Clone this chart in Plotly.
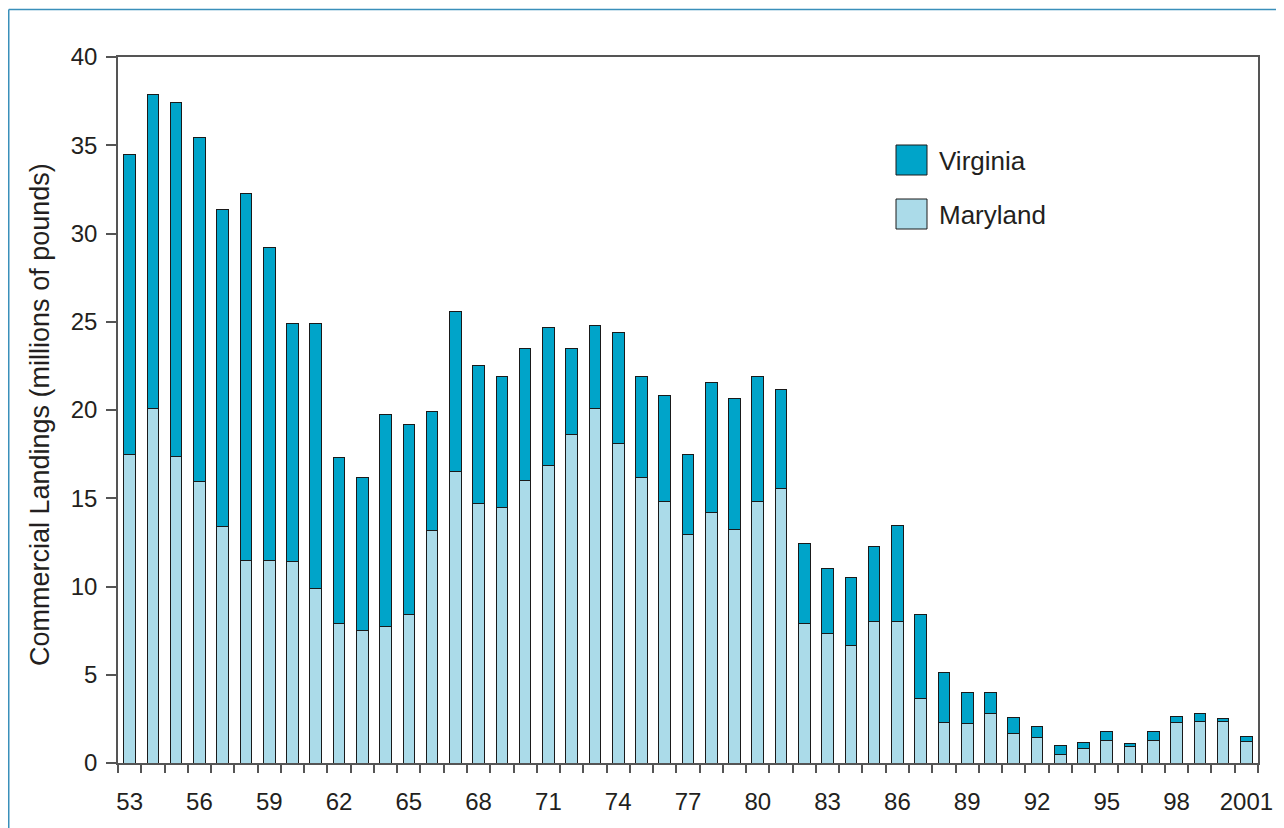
import plotly.graph_objects as go

years = list(range(1953, 2002))
maryland = [17.5, 20.1, 17.35, 15.95, 13.4, 11.5, 11.5, 11.4, 9.9, 7.9,
            7.5, 7.76, 8.4, 13.2, 16.5, 14.7, 14.47, 16.03, 16.88, 18.64,
            20.1, 18.13, 16.15, 14.8, 12.94, 14.22, 13.22, 14.8, 15.54, 7.9,
            7.35, 6.67, 8.0, 8.03, 3.68, 2.32, 2.21, 2.83, 1.7, 1.42,
            0.51, 0.85, 1.25, 0.96, 1.3, 2.32, 2.34, 2.33, 1.21]
total = [34.45, 37.9, 37.4, 35.45, 31.35, 32.25, 29.2, 24.9, 24.9, 17.3,
         16.2, 19.77, 19.17, 19.9, 25.57, 22.53, 21.89, 23.47, 24.7, 23.46,
         24.76, 24.4, 21.87, 20.81, 17.49, 21.57, 20.66, 21.89, 21.15, 12.45,
         11.03, 10.5, 12.29, 13.48, 8.39, 5.1, 4.0, 3.97, 2.59, 2.08,
         0.98, 1.17, 1.76, 1.08, 1.76, 2.63, 2.81, 2.53, 1.51]
virginia = [round(t - m, 2) for t, m in zip(total, maryland)]
tick_years = list(range(1953, 2002, 3))
tick_text = [str(y)[2:] if y < 2001 else "2001" for y in tick_years]
y_ticks = list(range(0, 41, 5))

VA_COLOR = "#00A4C9"
MD_COLOR = "#ABDBE9"
LINE = "#555555"
TXT = "#231f20"
FONT = "Liberation Sans, Arial, Helvetica, sans-serif"

fig = go.Figure()
fig.add_trace(go.Bar(x=years, y=maryland, name="Maryland",
                     marker=dict(color=MD_COLOR, line=dict(color="#1a1a1a", width=1)),
                     width=0.5, showlegend=False))
fig.add_trace(go.Bar(x=years, y=virginia, name="Virginia",
                     marker=dict(color=VA_COLOR, line=dict(color="#1a1a1a", width=1)),
                     width=0.5, showlegend=False))

# page has an 8px body margin; plot area sits at page x 118-1258, y 57-763
fig.update_layout(
    barmode="stack",
    width=1276, height=820,
    margin=dict(l=110, r=26, t=49, b=65),
    paper_bgcolor="white", plot_bgcolor="white",
    font=dict(family=FONT, color=TXT, size=24),
    xaxis=dict(range=[1952.5, 2001.5], tickvals=tick_years, ticktext=tick_text,
               ticks="", showgrid=False, zeroline=False,
               showline=True, linecolor=LINE, linewidth=1.5, mirror=True,
               ticklabelstandoff=16,
               minor=dict(tickvals=[y - 0.5 for y in years] + [2001.5], ticks="outside",
                          ticklen=8, tickcolor=LINE, tickwidth=1.5, showgrid=False)),
    yaxis=dict(range=[0, 40], tickvals=y_ticks, ticks="outside", ticklen=10,
               tickcolor=LINE, tickwidth=1.5, showgrid=False, zeroline=False,
               showline=True, linecolor=LINE, linewidth=1.5, mirror=True,
               ticklabelstandoff=4),
)


def px_x(p):
    return (p - 118) / 1140


def px_y(p):
    return (763 - p) / 706


# y-axis title
fig.add_annotation(text="Commercial Landings (millions of pounds)", textangle=-90,
                   xref="paper", yref="paper", x=px_x(40), y=px_y(415),
                   xanchor="center", yanchor="middle", showarrow=False,
                   font=dict(size=27, family=FONT, color=TXT))

# legend drawn as shapes + labels
for label, color, top in [("Virginia", VA_COLOR, 145), ("Maryland", MD_COLOR, 199)]:
    fig.add_shape(type="rect", xref="paper", yref="paper",
                  x0=px_x(896), x1=px_x(927), y0=px_y(top + 30), y1=px_y(top),
                  fillcolor=color, line=dict(color="#1a1a1a", width=1))
    fig.add_annotation(text=label, xref="paper", yref="paper",
                       x=px_x(937), y=px_y(top + 16), xanchor="left", yanchor="middle",
                       showarrow=False, font=dict(size=26, family=FONT, color=TXT))

# outer frame (top and left edges)
fig.add_shape(type="line", xref="paper", yref="paper", x0=px_x(8.75), x1=px_x(1300),
              y0=px_y(9.5), y1=px_y(9.5), line=dict(color="#3a8fba", width=1.5))
fig.add_shape(type="line", xref="paper", yref="paper", x0=px_x(8.75), x1=px_x(8.75),
              y0=px_y(9.5), y1=px_y(840), line=dict(color="#3a8fba", width=1.5))

fig.write_html("out.html")
